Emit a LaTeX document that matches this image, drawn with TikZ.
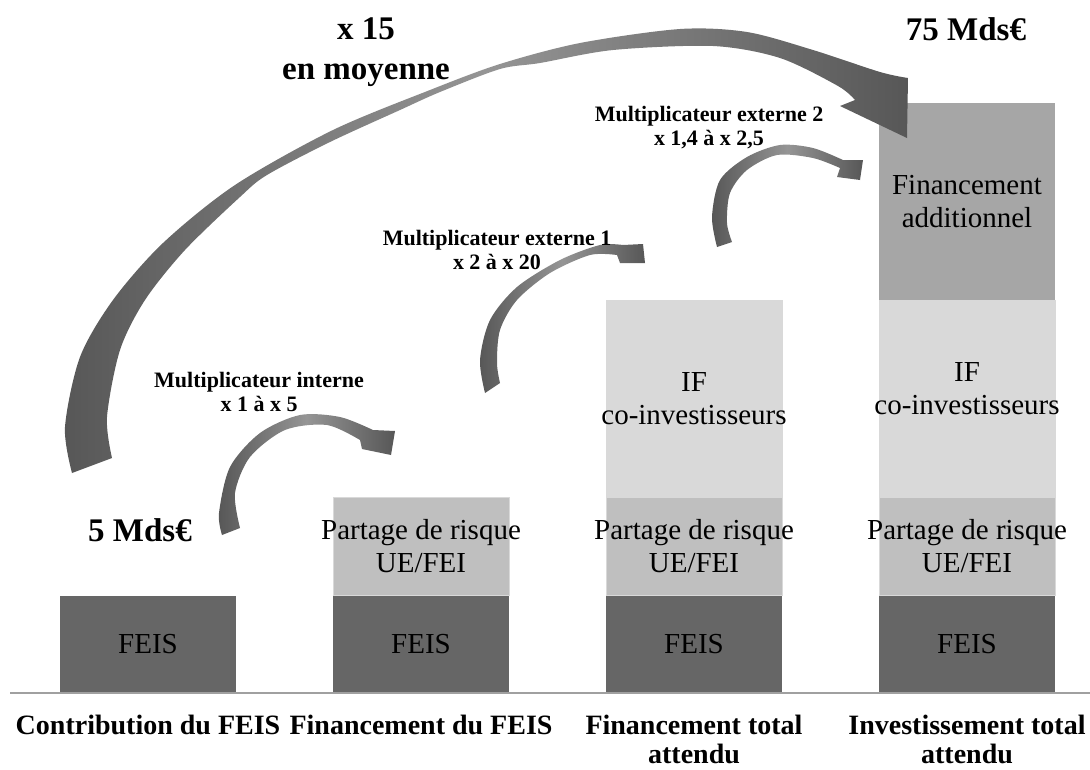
\documentclass[tikz,border=0pt]{standalone}
\usepackage{fontspec}
\setmainfont{Liberation Serif}
\usetikzlibrary{positioning}

\definecolor{feiscol}{HTML}{666666}
\definecolor{partcol}{HTML}{BFBFBF}
\definecolor{ifcol}{HTML}{D9D9D9}
\definecolor{addcol}{HTML}{A6A6A6}
\definecolor{axiscol}{HTML}{A0A0A0}
\definecolor{arrowdark}{HTML}{575757}
\definecolor{arrowlight}{HTML}{959595}

\tikzset{
  block/.style={minimum width=176pt, inner sep=0pt, outer sep=0pt, font=\fontsize{29}{33}\selectfont},
  feis/.style={block, fill=feiscol, minimum height=97.5pt},
  partage/.style={block, fill=partcol, draw=black!15, minimum height=98.5pt},
  coinv/.style={block, fill=ifcol, draw=black!15, minimum height=197pt},
  addit/.style={block, fill=addcol, minimum height=197pt},
  bartext/.style={inner sep=0pt, align=center, font=\fontsize{29}{33}\selectfont},
  captext/.style={inner sep=0pt, align=center, font=\bfseries\fontsize{28}{29}\selectfont},
  bigtext/.style={inner sep=0pt, align=center, font=\bfseries\fontsize{33}{40}\selectfont},
  multtext/.style={inner sep=0pt, align=center, font=\bfseries\fontsize{22}{24}\selectfont},
  blockarrow/.style={left color=arrowdark, right color=arrowdark, middle color=arrowlight},
}

\begin{document}
\begin{tikzpicture}[x=1pt, y=-1pt]
	\useasboundingbox (0,0) rectangle (1090,769);
	\coordinate (axisL) at (10,693);
	\coordinate (axisR) at (1090,693);

	\node[feis] (feisA) at (148,644.25) {FEIS};
	\node[feis] (feisB) at (421,644.25) {FEIS};
	\node[feis] (feisC) at (694,644.25) {FEIS};
	\node[feis] (feisD) at (967,644.25) {FEIS};
	\node[partage, above=0pt of feisB] (partB) {};
	\node[partage, above=0pt of feisC] (partC) {};
	\node[partage, above=0pt of feisD] (partD) {};
	\node[coinv, above=0pt of partC] (coinvC) {};
	\node[coinv, above=0pt of partD] (coinvD) {};
	\node[addit, above=0pt of coinvD] (additD) {};
	\draw[axiscol, line width=1.5pt] (axisL) -- (axisR);

	\shade[blockarrow] plot[smooth] coordinates {(72,473) (65,427) (80,357) (113,300) (163,243) (235,185) (333,130) (430,90) (500,64) (580,43) (680,29) (747,32) (813,50) (880,72) (908,78)}
		-- (907,138) -- (840,106)
		-- plot[smooth] coordinates {(855,100) (838,86) (780,58) (713,46) (613,50) (540,63) (500,69) (440,92) (400,110) (330,142) (267,175) (240,197) (185,250) (145,300) (120,350) (107,417) (112,458)}
		-- cycle;
	\shade[blockarrow] plot[smooth] coordinates {(222,535) (219,513) (230,467) (260,433) (300,415) (340,417) (373,430)}
		-- (395,431) -- (391,455) -- (362,449)
		-- plot[smooth] coordinates {(360,440) (327,425) (285,430) (250,457) (235,493) (240,528)}
		-- cycle;
	\shade[blockarrow] plot[smooth] coordinates {(485,393) (480,360) (490,320) (517,287) (560,260) (600,245) (623,245)}
		-- (643,244) -- (645,263) -- (620,263)
		-- plot[smooth] coordinates {(617,255) (590,255) (550,273) (517,300) (500,330) (497,363) (500,383)}
		-- cycle;
	\shade[blockarrow] plot[smooth] coordinates {(717,247) (712,217) (720,180) (747,157) (780,145) (813,148) (843,160)}
		-- (863,160) -- (860,180) -- (837,177)
		-- plot[smooth] coordinates {(840,168) (813,158) (777,155) (747,170) (730,193) (727,223) (732,242)}
		-- cycle;

	\node[bartext] (tpartB) at (partB) {Partage de risque\\UE/FEI};
	\node[bartext] (tpartC) at (partC) {Partage de risque\\UE/FEI};
	\node[bartext] (tpartD) at (partD) {Partage de risque\\UE/FEI};
	\node[bartext] (tcoinvC) at (coinvC) {IF\\co-investisseurs};
	\node[bartext, yshift=10pt] (tcoinvD) at (coinvD) {IF\\co-investisseurs};
	\node[bartext] (tadditD) at (additD) {Financement\\additionnel};

	\node[captext, below=22pt of feisA] (capA) {Contribution du FEIS};
	\node[captext, below=22pt of feisB] (capB) {Financement du FEIS};
	\node[captext, below=22pt of feisC] (capC) {Financement total\\attendu};
	\node[captext, below=22pt of feisD] (capD) {Investissement total\\attendu};

	\node[bigtext, anchor=base] (fiveMd) at (140,541) {5 Mds€};
	\node[bigtext, anchor=base] (seventyfiveMd) at (966,40) {75 Mds€};
	\node[bigtext, anchor=north] (xfifteen) at (366,17.7) {x 15\\en moyenne};
	\node[multtext, anchor=north] (multint) at (259,372) {Multiplicateur interne\\x 1 à x 5};
	\node[multtext, anchor=north] (multextA) at (497,230) {Multiplicateur externe 1\\x 2 à x 20};
	\node[multtext, anchor=north] (multextB) at (709,106) {Multiplicateur externe 2\\x 1,4 à x 2,5};
\end{tikzpicture}
\end{document}
